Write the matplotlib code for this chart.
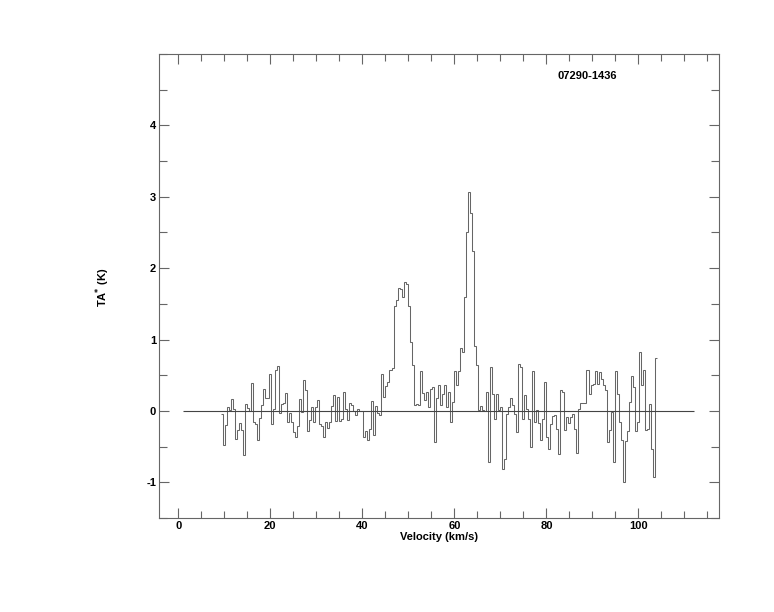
import numpy as np
import matplotlib
matplotlib.use("Agg")
import matplotlib.pyplot as plt
from matplotlib.ticker import MultipleLocator

plt.rcParams['font.family'] = ['Liberation Sans', 'DejaVu Sans']
plt.rcParams['font.weight'] = 'bold'
plt.rcParams['axes.unicode_minus'] = False

# spectrum 07290-1436, antenna temperature per channel (K)
source_name = "07290-1436"
v_first = 9.2     # left edge of first channel (km/s)
v_last = 104.0    # right edge of last channel (km/s)
ta = [
    -0.05, -0.48, -0.20, 0.05, 0.01, 0.16, 0.02, -0.39, -0.27, -0.17,
    -0.27, -0.62, 0.09, 0.04, 0.00, 0.39, -0.15, -0.18, -0.41, -0.10,
    0.08, 0.30, 0.18, 0.18, 0.52, -0.18, 0.02, 0.57, 0.63, -0.03,
    0.10, 0.11, 0.25, -0.15, -0.03, -0.15, -0.29, -0.37, -0.21, 0.16,
    -0.01, 0.44, 0.29, -0.28, -0.13, 0.05, -0.15, 0.05, 0.15, -0.19,
    -0.21, -0.36, -0.16, -0.24, -0.15, 0.07, 0.22, -0.14, 0.19, -0.14,
    -0.12, 0.27, 0.03, -0.13, 0.11, 0.08, 0.00, -0.06, 0.02, 0.00,
    0.00, -0.37, -0.28, -0.41, -0.25, 0.14, -0.34, 0.07, -0.03, -0.06,
    0.52, 0.20, 0.35, 0.41, 0.58, 0.60, 1.47, 1.56, 1.72, 1.71,
    1.59, 1.80, 1.78, 1.47, 0.97, 0.65, 0.08, 0.09, 0.08, 0.56,
    0.25, 0.15, 0.27, 0.05, 0.31, 0.33, -0.44, 0.18, 0.36,
    0.08, 0.23, 0.37, 0.05, 0.27, -0.15, 0.13, 0.56, 0.36, 0.56,
    0.88, 0.82, 1.60, 2.51, 3.07, 2.77, 2.24, 0.91, 0.64, 0.01,
    0.07, 0.01, 0.00, 0.27, -0.71, 0.62, 0.23, -0.12, 0.23, 0.01,
    0.06, -0.81, -0.68, -0.04, 0.05, 0.18, 0.08, -0.04, -0.29, 0.66,
    0.62, -0.11, 0.22, 0.03, -0.11, -0.51, 0.56, -0.16, 0.01, -0.17,
    -0.41, -0.12, 0.41, -0.36, -0.53, -0.19, -0.07, -0.06, -0.25, -0.61,
    0.29, 0.26, -0.27, -0.08, -0.17, -0.09, -0.04, -0.25, -0.59, 0.03,
    0.11, 0.11, 0.11, 0.57, 0.24, 0.36, 0.38, 0.56, 0.38, 0.55,
    0.45, 0.36, 0.29, -0.43, -0.27, -0.02, -0.71, 0.56, 0.23, -0.16,
    -0.41, -0.99, -0.42, -0.28, 0.12, 0.49, 0.34, -0.28, -0.15, 0.83,
    0.36, 0.58, -0.27, -0.26, 0.09, -0.53, -0.93, 0.74,
]
base_from, base_to = 1.0, 112.0

edges = np.linspace(v_first, v_last, len(ta) + 1)

fig = plt.figure(figsize=(7.74, 6.12), dpi=100)
ax = fig.add_axes([0.2054, 0.1536, 0.7235, 0.7582])

ax.hlines(0, base_from, base_to, color='#444444', lw=0.8)
ax.stairs(ta, edges, baseline=None, color='#666666', lw=0.75)

ax.set_xlim(-4.2, 117.5)
ax.set_ylim(-1.5, 5.0)
ax.xaxis.set_major_locator(MultipleLocator(20))
ax.xaxis.set_minor_locator(MultipleLocator(5))
ax.yaxis.set_major_locator(MultipleLocator(1))
ax.yaxis.set_minor_locator(MultipleLocator(0.5))
ax.tick_params(which='both', direction='in', top=True, right=True,
               color='#666666', width=0.8, labelsize=8, pad=2)
ax.tick_params(which='major', length=7.5)
ax.tick_params(which='minor', length=5.5)
ax.tick_params(axis='x', which='minor', bottom=True, length=5)
yt = ax.get_yticks()
ax.set_yticks([t for t in yt if -1 <= t <= 4])
for s in ax.spines.values():
    s.set_color('#666666')
    s.set_linewidth(0.8)

ax.set_xlabel('Velocity (km/s)', fontsize=8, fontweight='bold', labelpad=1)
fig.text(0.1325, 0.530, 'TA$^{*}$ (K)', rotation=90, fontsize=8, fontweight='bold',
         ha='center', va='center')
ax.text(0.764, 0.952, source_name, transform=ax.transAxes, fontsize=8,
        fontweight='bold', ha='center', va='center')

fig.savefig('out.png', dpi=100)
